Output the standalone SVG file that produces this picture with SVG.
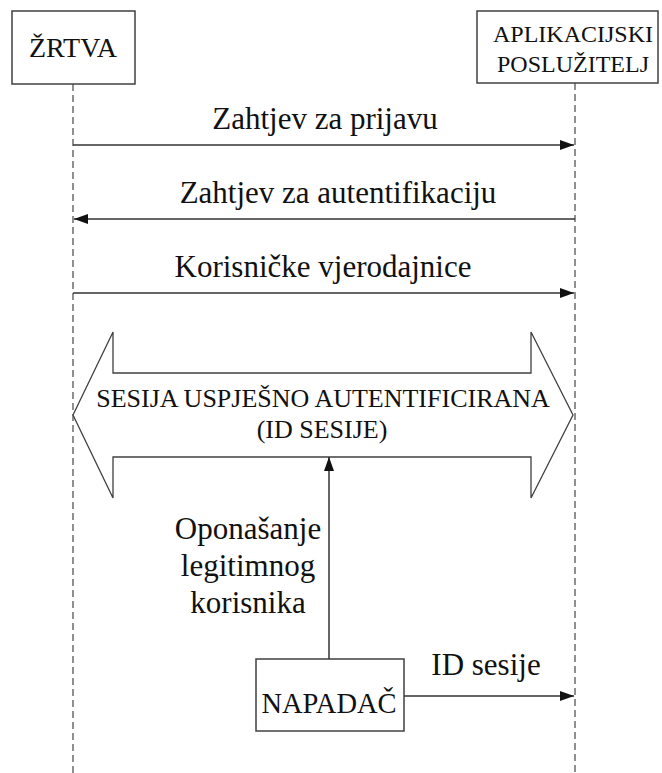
<svg xmlns="http://www.w3.org/2000/svg" width="662" height="773" viewBox="0 0 662 773">
<style>
.box{fill:#fff;stroke:#404040;stroke-width:1.5}
.life{stroke:#555;stroke-width:1.3;stroke-dasharray:7 4;fill:none}
.msg{stroke:#333;stroke-width:1.5;fill:none}
text{fill:#111;text-anchor:middle}
.lbl{font-size:31px}
</style>
<defs>
<marker id="ah" viewBox="0 0 14 10" refX="14" refY="5" markerWidth="14" markerHeight="10" markerUnits="userSpaceOnUse" orient="auto">
<path d="M0,0 L14,5 L0,10 Z" fill="#111"/>
</marker>
</defs>
<g id="lifelines">
<line class="life" x1="73" y1="84" x2="73" y2="773"/>
<line class="life" x1="575" y1="83" x2="575" y2="773"/>
</g>
<g font-family="'Liberation Serif', 'DejaVu Serif', serif">
<g id="zrtva">
<rect class="box" x="12" y="11" width="123" height="73"/>
<text x="73" y="57" font-size="28">ŽRTVA</text>
</g>
<g id="posluzitelj">
<rect class="box" x="477" y="11" width="181" height="72"/>
<text x="573" y="42" font-size="24">APLIKACIJSKI</text>
<text x="573" y="72" font-size="24">POSLUŽITELJ</text>
</g>
<g id="sesija">
<polygon points="73,415 113,332 113,373 531,373 531,332 573,415 531,498 531,457 113,457 113,498" fill="#fff" stroke="#404040" stroke-width="1.3"/>
<text x="323" y="407" font-size="26">SESIJA USPJEŠNO AUTENTIFICIRANA</text>
<text x="322" y="438" font-size="26">(ID SESIJE)</text>
</g>
<g id="napadac">
<rect class="box" x="256" y="659" width="148" height="72"/>
<text x="329" y="713" font-size="28.5">NAPADAČ</text>
</g>
<g id="connectors">
<line class="msg" x1="73" y1="145" x2="574" y2="145" marker-end="url(#ah)"/>
<line class="msg" x1="575" y1="219" x2="74" y2="219" marker-end="url(#ah)"/>
<line class="msg" x1="73" y1="293" x2="574" y2="293" marker-end="url(#ah)"/>
<line class="msg" x1="329" y1="659" x2="329" y2="457" marker-end="url(#ah)"/>
<line class="msg" x1="404" y1="696" x2="574" y2="696" marker-end="url(#ah)"/>
</g>
<g id="labels">
<text class="lbl" x="325" y="129">Zahtjev za prijavu</text>
<text class="lbl" x="338" y="203">Zahtjev za autentifikaciju</text>
<text class="lbl" x="323" y="277">Korisničke vjerodajnice</text>
<text class="lbl" x="248" y="539">Oponašanje</text>
<text class="lbl" x="248" y="576">legitimnog</text>
<text class="lbl" x="248" y="613">korisnika</text>
<text class="lbl" x="486" y="675">ID sesije</text>
</g>
</g>
</svg>
